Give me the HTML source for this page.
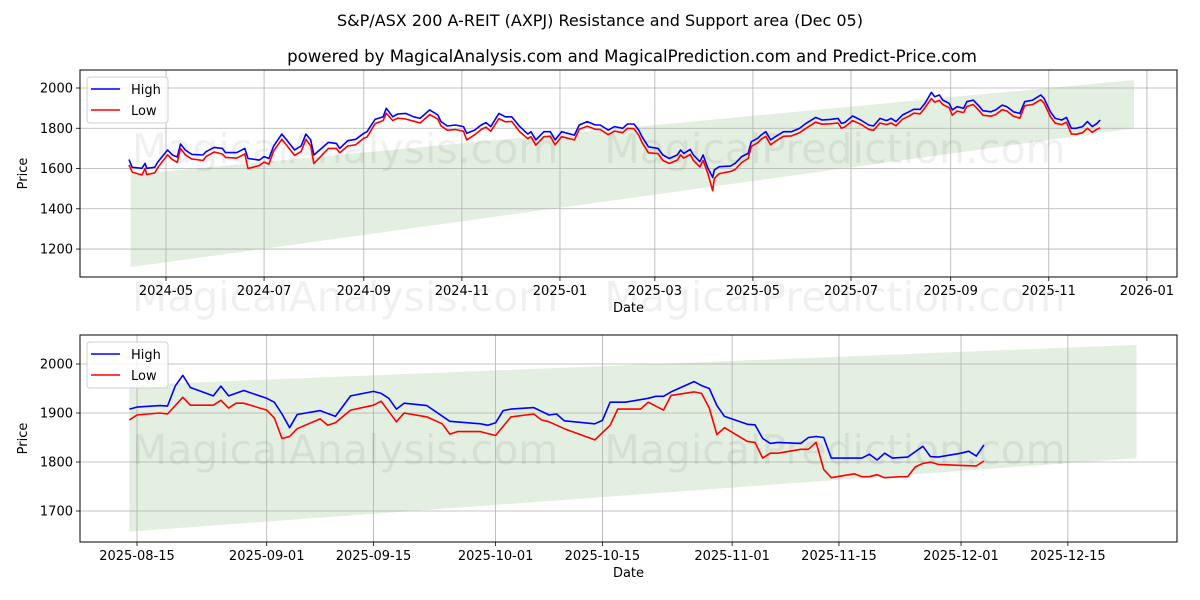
<!DOCTYPE html>
<html><head><meta charset="utf-8">
<style>
html,body{margin:0;padding:0;background:#fff;}
svg{display:block;font-family:"DejaVu Sans","Liberation Sans",sans-serif;}
</style></head>
<body>
<svg id="chart" width="1200" height="600" viewBox="0 0 1200 600">
<text x="600" y="26" text-anchor="middle" font-size="16">S&amp;P/ASX 200 A-REIT (AXPJ) Resistance and Support area (Dec 05)</text>
<text x="632" y="62" text-anchor="middle" font-size="16.6">powered by MagicalAnalysis.com and MagicalPrediction.com and Predict-Price.com</text>
<g id="top"></g>
<g id="bot"></g>
</svg>
<script>
// ---- Top chart data (days since 2024-05-01) ----
const topHighDays = [-23,-21,-15,-13,-12,-7,-5,1,4,7,9,12,16,23,25,30,35,37,44,49,51,58,61,64,67,72,75,80,84,87,90,92,101,106,108,113,118,123,125,130,135,137,141,144,149,154,158,164,169,171,175,180,185,187,192,196,199,202,207,211,215,220,225,227,230,235,239,242,246,254,257,262,267,270,275,279,284,287,291,294,296,300,306,309,313,318,320,322,326,328,332,334,337,340,341,344,351,354,358,362,364,368,370,373,376,379,384,389,394,398,404,408,413,418,420,422,427,432,437,440,444,448,451,454,458,462,465,469,472,476,478,481,483,487,489,492,496,498,502,506,508,513,516,520,523,527,531,534,539,544,546,550,553,557,560,563,566,570,573,576,579,581];
const topHighVals = [1645,1606,1601,1626,1601,1606,1634,1692,1667,1657,1722,1692,1670,1667,1684,1705,1700,1679,1679,1700,1650,1642,1659,1650,1712,1771,1742,1692,1712,1771,1742,1667,1730,1725,1700,1738,1745,1775,1783,1844,1857,1899,1857,1871,1874,1857,1849,1891,1866,1833,1811,1816,1808,1775,1791,1816,1828,1808,1874,1857,1857,1808,1771,1783,1742,1783,1783,1742,1783,1766,1816,1833,1816,1816,1791,1808,1800,1821,1821,1791,1758,1708,1700,1667,1650,1667,1692,1675,1695,1667,1634,1667,1601,1556,1593,1609,1612,1626,1659,1675,1733,1750,1766,1783,1742,1758,1783,1783,1800,1824,1854,1841,1844,1849,1824,1828,1861,1841,1816,1811,1849,1838,1849,1833,1866,1882,1894,1894,1924,1978,1957,1965,1940,1924,1891,1907,1899,1932,1940,1907,1887,1882,1891,1915,1907,1882,1874,1932,1940,1965,1949,1882,1849,1841,1854,1800,1800,1808,1833,1808,1824,1841];
const topLowVals = [1618,1582,1568,1600,1570,1578,1606,1668,1645,1630,1700,1668,1648,1640,1660,1682,1672,1655,1652,1672,1600,1615,1632,1622,1688,1745,1716,1665,1685,1745,1712,1625,1700,1700,1678,1712,1718,1750,1756,1822,1838,1875,1838,1850,1846,1835,1826,1868,1845,1812,1790,1794,1785,1742,1768,1794,1806,1785,1848,1832,1834,1782,1748,1758,1716,1758,1760,1718,1758,1742,1795,1810,1795,1794,1768,1786,1778,1800,1798,1765,1730,1678,1674,1640,1625,1642,1668,1652,1670,1640,1608,1640,1575,1490,1550,1575,1585,1595,1630,1650,1710,1728,1745,1760,1718,1735,1760,1762,1778,1800,1830,1820,1822,1826,1800,1806,1838,1820,1795,1790,1826,1818,1826,1812,1845,1860,1875,1872,1902,1948,1930,1938,1918,1902,1865,1885,1878,1908,1918,1885,1865,1860,1868,1892,1885,1860,1850,1912,1918,1942,1925,1858,1825,1818,1830,1772,1770,1778,1800,1780,1795,1802];
const topYTicks = [1200,1400,1600,1800,2000];
const topXTickDays = [0,61,123,184,245,304,365,426,488,549,610];
const topXTickLabels = ["2024-05","2024-07","2024-09","2024-11","2025-01","2025-03","2025-05","2025-07","2025-09","2025-11","2026-01"];
const topBandDays = [-22,602];
const topBandUpper = [1570,2040];
const topBandLower = [1110,1800];

// ---- Bottom chart data (days since 2025-08-15) ----
const botHighDays = [-1,0,3,4,5,6,7,10,11,12,14,17,18,19,20,21,24,26,28,31,32,33,34,35,38,41,45,46,47,48,49,52,54,55,56,60,61,62,64,67,68,69,70,73,74,75,76,77,80,81,82,83,84,87,88,89,90,91,94,95,96,97,98,99,101,103,104,105,108,109,110,111];
const botHighVals = [1908,1912,1915,1914,1955,1977,1952,1935,1955,1935,1946,1930,1922,1898,1870,1897,1905,1893,1935,1944,1940,1930,1908,1920,1915,1883,1878,1875,1880,1905,1908,1911,1896,1898,1884,1878,1885,1922,1922,1930,1934,1934,1943,1964,1956,1950,1915,1893,1877,1876,1848,1838,1840,1838,1850,1852,1850,1808,1808,1808,1816,1804,1818,1808,1810,1832,1811,1810,1818,1822,1812,1835];
const botLowDays = [-1,0,3,4,6,7,10,11,12,13,14,17,18,19,20,21,24,25,26,28,31,32,34,35,38,40,41,42,45,46,47,49,52,53,54,56,60,62,63,66,67,69,70,73,74,75,76,77,80,81,82,83,84,87,88,89,90,91,94,95,96,97,98,100,101,102,103,104,105,108,110,111];
const botLowVals = [1886,1896,1900,1898,1932,1916,1916,1926,1910,1920,1920,1906,1890,1848,1852,1868,1888,1875,1880,1906,1916,1924,1882,1900,1892,1878,1857,1862,1862,1858,1854,1892,1898,1886,1882,1868,1845,1875,1908,1908,1922,1906,1936,1943,1940,1910,1856,1870,1842,1840,1808,1818,1818,1826,1826,1840,1785,1768,1776,1770,1770,1774,1768,1770,1770,1790,1797,1800,1795,1793,1792,1802];
const botYTicks = [1700,1800,1900,2000];
const botXTickDays = [0,17,31,47,61,78,92,108,122];
const botXTickLabels = ["2025-08-15","2025-09-01","2025-09-15","2025-10-01","2025-10-15","2025-11-01","2025-11-15","2025-12-01","2025-12-15"];
const botBandDays = [-1,131];
const botBandUpper = [1957,2039];
const botBandLower = [1658,1808];

const NS="http://www.w3.org/2000/svg";
function mk(parent,tag,attrs,text){const e=document.createElementNS(NS,tag);for(const k in attrs)e.setAttribute(k,attrs[k]);if(text!==undefined)e.textContent=text;parent.appendChild(e);return e;}

function panel(g,cfg){
  const L=80,R=1177,T=cfg.top,B=cfg.bottom;
  const sx=d=>cfg.x0+(d-cfg.d0)*cfg.ppd;
  const sy=v=>cfg.yPix0+(cfg.yVal0-v)*cfg.ppv;
  const cid="clip"+cfg.id;
  const defs=mk(g,"defs",{});const cp=mk(defs,"clipPath",{id:cid});mk(cp,"rect",{x:L,y:T,width:R-L,height:B-T});
  const band=mk(g,"polygon",{points:`${sx(cfg.bandDays[0])},${sy(cfg.bandUpper[0])} ${sx(cfg.bandDays[1])},${sy(cfg.bandUpper[1])} ${sx(cfg.bandDays[1])},${sy(cfg.bandLower[1])} ${sx(cfg.bandDays[0])},${sy(cfg.bandLower[0])}`,fill:"#e3efe0","clip-path":`url(#${cid})`});
  
  
  cfg.xTickDays.forEach((d,i)=>{
    const x=sx(d);
    const gl=mk(g,"line",{x1:x,x2:x,y1:T,y2:B,stroke:"#b0b0b0","stroke-width":0.8});
    
    
    mk(g,"line",{x1:x,x2:x,y1:B,y2:B+4,stroke:"#000","stroke-width":0.8});
    const t=mk(g,"text",{x:x,y:B+18,"text-anchor":"middle","font-size":13},cfg.xTickLabels[i]);
    
    
  });
  cfg.yTicks.forEach(v=>{
    const y=sy(v);
    const gl=mk(g,"line",{x1:L,x2:R,y1:y,y2:y,stroke:"#b0b0b0","stroke-width":0.8});
    
    
    mk(g,"line",{x1:L-4,x2:L,y1:y,y2:y,stroke:"#000","stroke-width":0.8});
    const t=mk(g,"text",{x:L-7,y:y+4.5,"text-anchor":"end","font-size":13},String(v));
    
    
  });
  cfg.wm.forEach(w=>{
    const t=mk(g,"text",{x:w[0],y:w[1],"text-anchor":"middle","font-size":41,fill:"#000","fill-opacity":0.06},w[2]);
    
    
  });
  const line=(days,vals,color,name)=>{
    const p=mk(g,"polyline",{points:days.map((d,i)=>sx(d).toFixed(1)+","+sy(vals[i]).toFixed(1)).join(" "),fill:"none",stroke:color,"stroke-width":1.6,"stroke-linejoin":"round","clip-path":`url(#${cid})`});
    
    
  };
  line(cfg.highDays,cfg.highVals,"#0000ff","high-line");
  line(cfg.lowDays,cfg.lowVals,"#ff0000","low-line");
  const fr=mk(g,"rect",{x:L,y:T,width:R-L,height:B-T,fill:"none",stroke:"#000","stroke-width":1});
  
  
  const xl=mk(g,"text",{x:(L+R)/2,y:B+35,"text-anchor":"middle","font-size":13},"Date");
  
  
  const yl=mk(g,"text",{x:27,y:(T+B)/2,"text-anchor":"middle","font-size":13,transform:`rotate(-90 27 ${(T+B)/2})`},"Price");
  
  
  const lg=mk(g,"g",{});
  
  
  const ly=T+7;
  mk(lg,"rect",{x:87,y:ly,width:81,height:46,rx:3,fill:"#fff","fill-opacity":0.8,stroke:"#d0d0d0"});
  const e1=mk(lg,"g",{});
  
  
  mk(e1,"line",{x1:91,x2:120,y1:ly+12,y2:ly+12,stroke:"#0000ff","stroke-width":1.6});
  mk(e1,"text",{x:131,y:ly+17,"font-size":13},"High");
  const e2=mk(lg,"g",{});
  
  
  mk(e2,"line",{x1:91,x2:120,y1:ly+33,y2:ly+33,stroke:"#ff0000","stroke-width":1.6});
  mk(e2,"text",{x:131,y:ly+38,"font-size":13},"Low");
}

panel(document.getElementById("top"),{id:"t",top:70,bottom:277,x0:166,d0:0,ppd:1.608,yPix0:88,yVal0:2000,ppv:0.2013,
  bandDays:topBandDays,bandUpper:topBandUpper,bandLower:topBandLower,xTickDays:topXTickDays,xTickLabels:topXTickLabels,yTicks:topYTicks,
  highDays:topHighDays,highVals:topHighVals,lowDays:topHighDays,lowVals:topLowVals,
  wm:[[345,163,"MagicalAnalysis.com"],[835,163,"MagicalPrediction.com"],[345,311,"MagicalAnalysis.com"],[835,311,"MagicalPrediction.com"]]});
panel(document.getElementById("bot"),{id:"b",top:335,bottom:542,x0:137,d0:0,ppd:7.63,yPix0:364,yVal0:2000,ppv:0.49,
  bandDays:botBandDays,bandUpper:botBandUpper,bandLower:botBandLower,xTickDays:botXTickDays,xTickLabels:botXTickLabels,yTicks:botYTicks,
  highDays:botHighDays,highVals:botHighVals,lowDays:botLowDays,lowVals:botLowVals,
  wm:[[345,464,"MagicalAnalysis.com"],[835,464,"MagicalPrediction.com"]]});
</script>
</body></html>
